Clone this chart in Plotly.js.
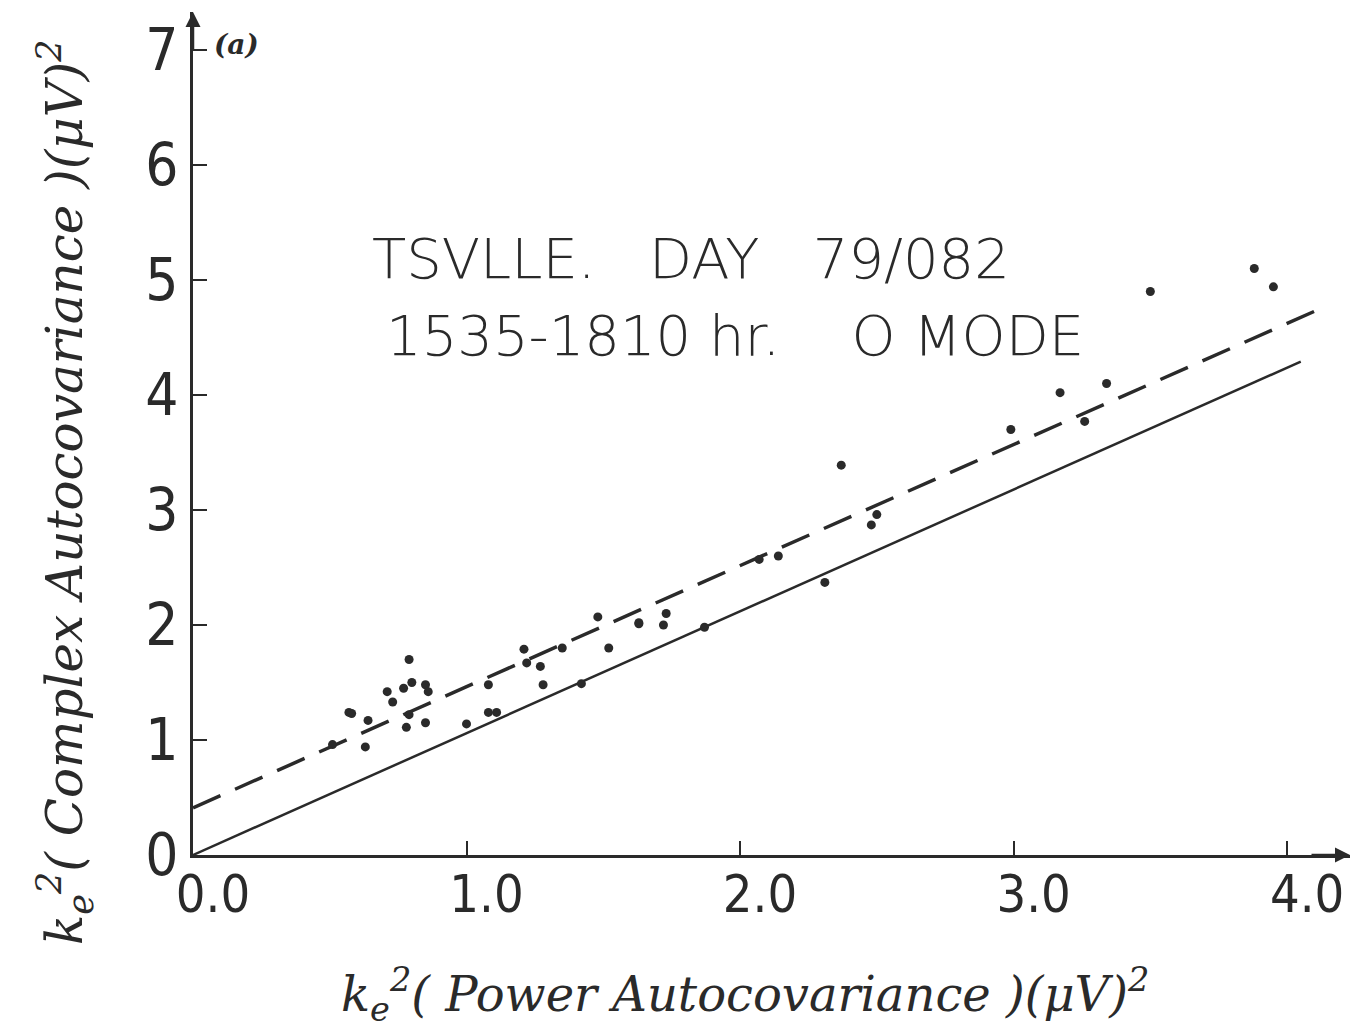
<!DOCTYPE html>
<html>
<head>
<meta charset="utf-8">
<script src="https://cdn.plot.ly/plotly-3.0.1.min.js"></script>
<style>html,body{margin:0;padding:0;background:#fff;}#chart{width:1364px;height:1035px;}</style>
</head>
<body>
<div id="chart"></div>
<script>
// Data
var pointsX = [0.51,0.57,0.58,0.63,0.64,0.71,0.73,0.77,0.79,0.80,0.85,0.86,0.79,0.78,0.85,
               1.00,1.08,1.11,1.08,1.21,1.22,1.27,1.28,1.35,1.42,1.48,1.52,1.63,1.63,1.72,1.73,
               1.87,2.07,2.14,2.31,2.37,2.48,2.50,2.99,3.17,3.26,3.34,3.50,3.88,3.95];
var pointsY = [0.96,1.24,1.23,0.94,1.17,1.42,1.33,1.45,1.70,1.50,1.48,1.42,1.22,1.11,1.15,
               1.14,1.24,1.24,1.48,1.79,1.67,1.64,1.48,1.80,1.49,2.07,1.80,2.01,2.02,2.00,2.10,
               1.98,2.57,2.60,2.37,3.39,2.87,2.96,3.70,4.02,3.77,4.10,4.90,5.10,4.94];
var solidLineX = [0, 4.05];
var solidLineY = [0, 4.29];
var dashedLineX = [0, 4.15];
var dashedLineY = [0.41, 4.78];
var xTickVals = [0, 1, 2, 3, 4];
var xTickText = ['0.0', '1.0', '2.0', '3.0', '4.0'];
var yTickVals = [0, 1, 2, 3, 4, 5, 6, 7];
var yTickText = ['0', '1', '2', '3', '4', '5', '6', '7'];
var titleLine1 = 'TSVLLE.   DAY   79/082';
var titleLine2 = '1535-1810 hr.    O MODE';
var xTitle = 'k<sub>e</sub><sup>2</sup>( Power Autocovariance )(μV)<sup>2</sup>';
var yTitle = 'k<sub>e</sub><sup>2</sup>( Complex Autocovariance )(μV)<sup>2</sup>';

var ink = '#2a2a2a';
var numFont = "'Liberation Sans Narrow', 'DejaVu Sans Condensed', 'Roboto', sans-serif";
var handFont = "'DejaVu Serif', 'Liberation Serif', serif";
var titleFont = "'DejaVu Sans Light', 'DejaVu Sans', sans-serif";

var traces = [
  {x: solidLineX, y: solidLineY, mode: 'lines', line: {color: ink, width: 2.5}, hoverinfo: 'skip'},
  {x: dashedLineX, y: dashedLineY, mode: 'lines', line: {color: ink, width: 3.5, dash: '30px,16px'}, hoverinfo: 'skip'},
  {x: pointsX, y: pointsY, mode: 'markers', marker: {color: ink, size: 9}}
];

var layout = {
  width: 1364, height: 1035,
  margin: {l: 193, r: 14, t: 12, b: 180},
  paper_bgcolor: '#fff', plot_bgcolor: '#fff',
  showlegend: false,
  xaxis: {
    range: [0, 4.23], showgrid: false, zeroline: false,
    showline: true, linecolor: ink, linewidth: 3,
    ticks: 'inside', ticklen: 14, tickwidth: 2, tickcolor: ink,
    tickvals: xTickVals, ticktext: xTickText,
    ticklabelshift: 20, ticklabelstandoff: -8,
    tickfont: {family: numFont, size: 52, color: ink}
  },
  yaxis: {
    range: [0, 7.33], showgrid: false, zeroline: false,
    showline: true, linecolor: ink, linewidth: 3,
    ticks: 'inside', ticklen: 14, tickwidth: 2, tickcolor: ink,
    tickvals: yTickVals, ticktext: yTickText,
    tickfont: {family: numFont, size: 58, color: ink}
  },
  annotations: [
    {xref: 'paper', yref: 'paper', x: 1, y: 0, ax: -40, ay: 0, text: '', showarrow: true,
     arrowhead: 2, arrowsize: 1.2, arrowwidth: 2.5, arrowcolor: ink},
    {xref: 'paper', yref: 'paper', x: 0, y: 1, ax: 0, ay: 40, text: '', showarrow: true,
     arrowhead: 2, arrowsize: 1.2, arrowwidth: 2.5, arrowcolor: ink},
    {xref: 'x', yref: 'y', x: 1.82, y: 5.19, text: titleLine1, showarrow: false,
     font: {family: titleFont, size: 56, color: ink, weight: 300}},
    {xref: 'x', yref: 'y', x: 1.98, y: 4.52, text: titleLine2, showarrow: false,
     font: {family: titleFont, size: 56, color: ink, weight: 300}},
    {xref: 'x', yref: 'y', x: 0.16, y: 7.05, text: '(a)', showarrow: false,
     font: {family: handFont, size: 28, color: ink, style: 'italic', weight: 'bold'}},
    {xref: 'paper', yref: 'paper', x: -0.111, y: 0.43, xanchor: 'center', yanchor: 'middle',
     text: yTitle, textangle: -90, showarrow: false,
     font: {family: handFont, size: 50, color: ink, style: 'italic'}},
    {xref: 'paper', yref: 'paper', x: 0.477, y: -0.166, xanchor: 'center', yanchor: 'middle',
     text: xTitle, showarrow: false,
     font: {family: handFont, size: 48, color: ink, style: 'italic'}}
  ]
};

Plotly.newPlot('chart', traces, layout, {displayModeBar: false, staticPlot: true});
</script>
</body>
</html>
